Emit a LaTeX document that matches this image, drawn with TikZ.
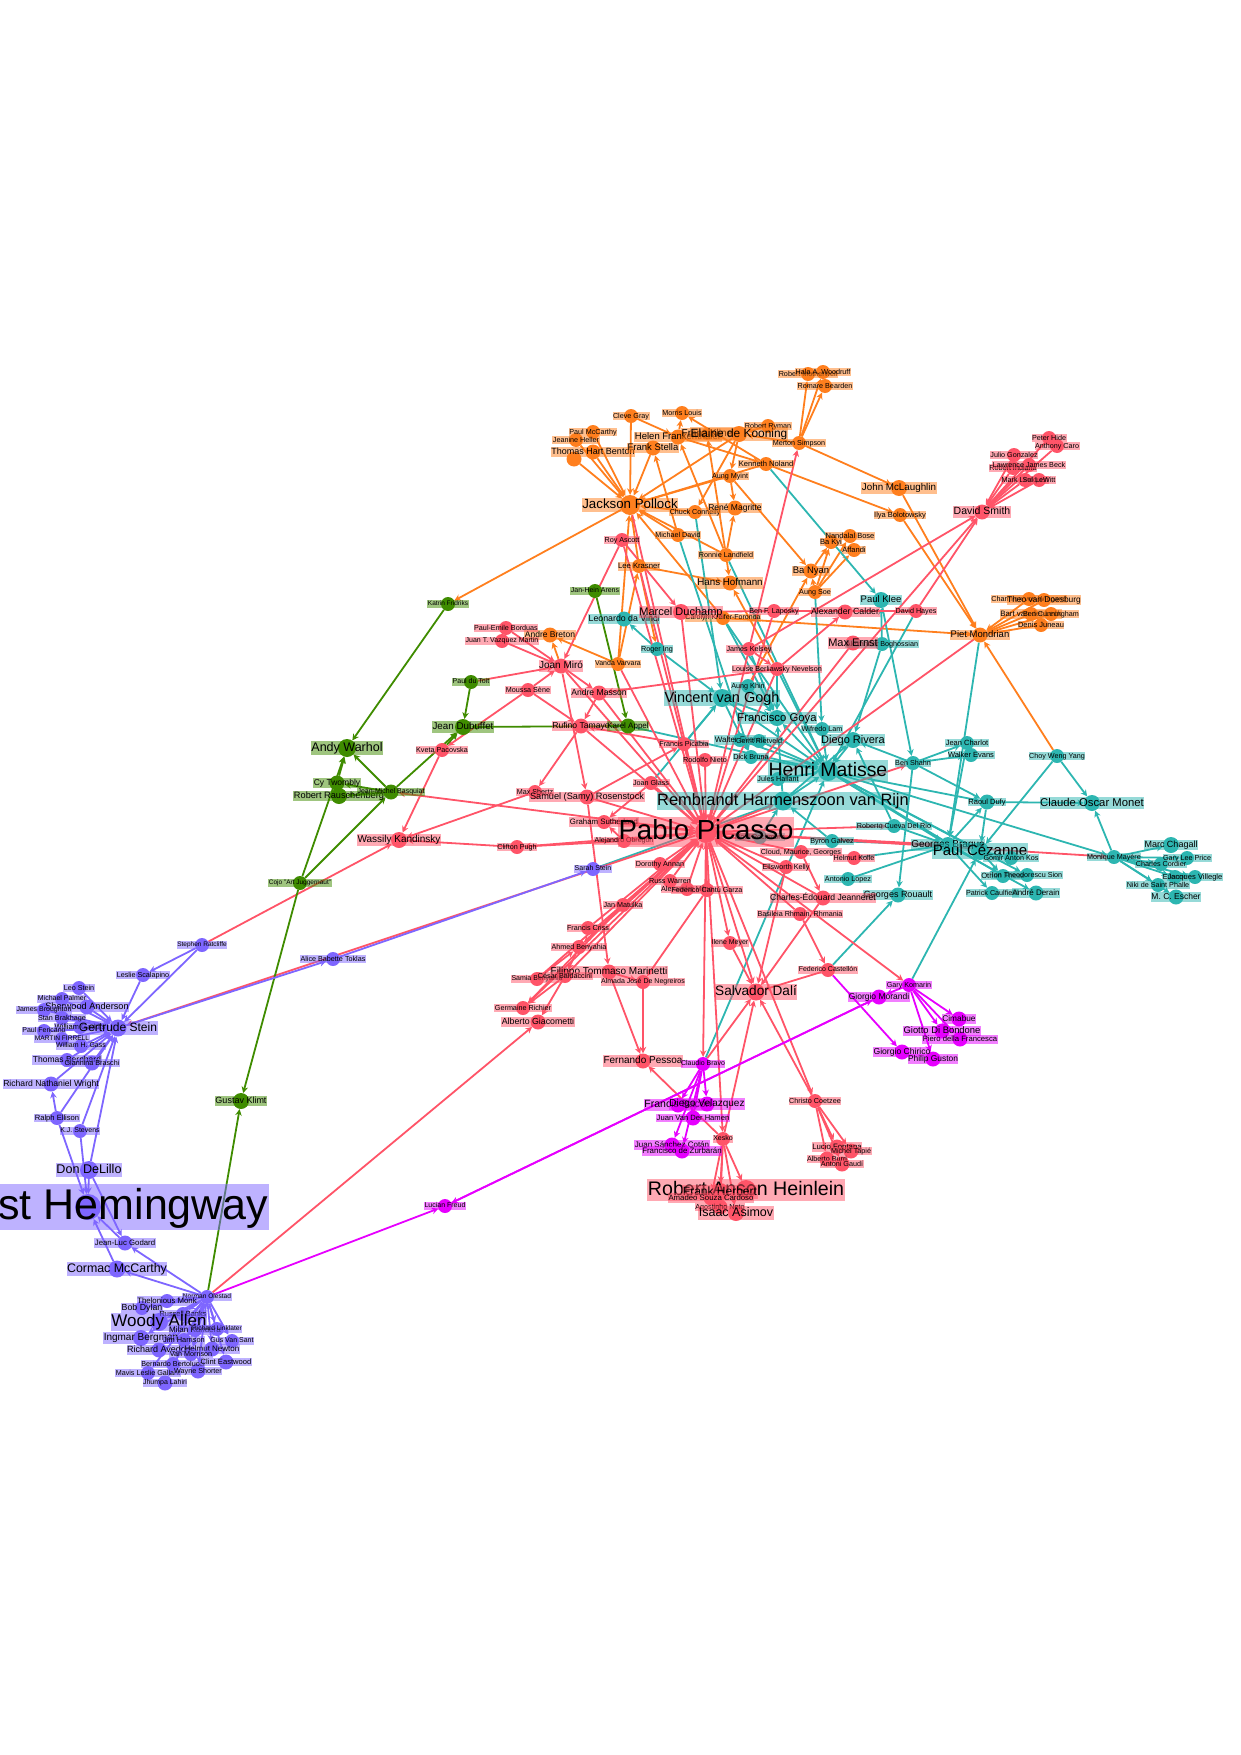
\documentclass[tikz,border=0pt]{standalone}
\usepackage{fontspec}
\setmainfont{Liberation Sans}
\usepackage{xcolor}
\usepackage{tikz}
\usetikzlibrary{arrows.meta}

\definecolor{cOrange}{HTML}{FF7F1E}
\definecolor{cRed}{HTML}{FF5468}
\definecolor{cTeal}{HTML}{2DB6B1}
\definecolor{cGreen}{HTML}{3F8C00}
\definecolor{cPurple}{HTML}{7E66FF}
\definecolor{cMagenta}{HTML}{E600FF}

\pgfdeclarelayer{edges}
\pgfdeclarelayer{labels}
\pgfsetlayers{edges,main,labels}

% id, x, y, radius, font size, text
\newcommand{\person}[6]{%
  \node[dot, minimum size=#4*2pt] (#1) at (#2,#3) {};
  \pgfmathsetmacro{\labH}{#5*.80}
  \pgfmathsetmacro{\labD}{#5*.24}
  \begin{pgfonlayer}{labels}
    \node[lab, font=\fontsize{#5}{#5}\selectfont, text height=\labH pt, text depth=\labD pt] (#1-l) at (#1.center) {#6};
  \end{pgfonlayer}
}

\begin{document}
\begin{tikzpicture}[
  x=1pt, y=-1pt,
  dot/.style={circle, fill=comm, draw=none, inner sep=0pt},
  lab/.style={rectangle, fill=comm, fill opacity=.5, text opacity=1, inner xsep=.5pt, inner ysep=.5pt},
  link/.style={-{Stealth[length=6.5pt,width=6.5pt]}, line width=1.8pt, draw=#1},
]
\useasboundingbox (0,0) rectangle (1240,1755);

% orange group
\colorlet{comm}{cOrange}
\person{motherwell}{808}{374}{7}{7.2}{Robert Motherwell}
\person{woodruff}{823}{372}{7}{7.2}{Hala A. Woodruff}
\person{bearden}{825}{386}{7}{7.2}{Romare Bearden}
\person{gray}{631}{416}{7}{7.2}{Cleve Gray}
\person{louis}{682}{413}{7}{7.2}{Morris Louis}
\person{ryman}{768}{426}{7}{7.2}{Robert Ryman}
\person{mccarthy}{593}{432}{7}{7.2}{Paul McCarthy}
\person{heller}{576}{440}{7}{7.2}{Jeanine Heller}
\person{frankenthaler}{678}{437}{7.5}{9.5}{Helen Frankenthaler}
\person{kline}{707}{434}{6}{10}{Franz Kline}
\person{kooning}{739}{434}{8}{11.9}{Elaine de Kooning}
\person{thomasx}{574}{459}{7.5}{7.2}{}
\person{benton}{593}{452}{7.5}{9}{Thomas Hart Benton}
\person{stella}{653}{448}{7.5}{9.5}{Frank Stella}
\person{simpson}{799}{443}{7}{7.2}{Merton Simpson}
\person{noland}{766}{464}{7}{7.6}{Kenneth Noland}
\person{myint}{730}{476}{7}{7.2}{Aung Myint}
\person{pollock}{630}{505}{10}{13.3}{Jackson Pollock}
\person{connelly}{695}{512}{7}{7.2}{Chuck Connelly}
\person{magritte}{735}{508}{7.5}{8.5}{René Magritte}
\person{mclaughlin}{899}{488}{8}{9.8}{John McLaughlin}
\person{bolotowsky}{900}{515}{7}{7.5}{Ilya Bolotowsky}
\person{bose}{850}{536}{7}{7.5}{Nandalal Bose}
\person{bakyi}{831}{542}{7}{7.5}{Ba Kyi}
\person{affandi}{854}{550}{7}{7.5}{Affandi}
\person{mdavid}{678}{535}{7}{7.2}{Michael David}
\person{landfield}{726}{555}{7}{7.2}{Ronnie Landfield}
\person{krasner}{639}{566}{7}{7.7}{Lee Krasner}
\person{banyan}{811}{571}{7.5}{9.5}{Ba Nyan}
\person{hofmann}{730}{583}{7.5}{9.8}{Hans Hofmann}
\person{aungsoe}{815}{592}{7}{7.2}{Aung Soe}
\person{kreifer}{723}{618}{7}{7}{Carolyn Kreifer-Foronda}
\person{breton}{550}{635}{7.5}{8.5}{Andre Breton}
\person{varvara}{618}{664}{7}{7}{Vanda Varvara}
\person{charmion}{1029}{599}{7}{7.2}{Charmion von Wiegand}
\person{doesburg}{1044}{600}{7}{8.4}{Theo van Doesburg}
\person{leck}{1031}{614}{7}{7.8}{Bart van der Leck}
\person{cunningham}{1051}{614}{7}{7.2}{Ben Cunningham}
\person{juneau}{1041}{625}{7}{7.5}{Denis Juneau}
\person{mondrian}{980}{635}{7.5}{9.5}{Piet Mondrian}

% teal group
\colorlet{comm}{cTeal}
\person{klee}{881}{600}{8}{9.5}{Paul Klee}
\person{leonardo}{624}{619}{7.5}{8.8}{Leonardo da Vinci}
\person{boghossian}{882}{644}{7}{7.2}{Alexander Boghossian}
\person{ing}{657}{649}{7}{7.2}{Roger Ing}
\person{aungkhin}{748}{686}{7}{7.2}{Aung Khin}
\person{gogh}{722}{698}{9}{14.5}{Vincent van Gogh}
\person{goya}{777}{718}{8}{11.3}{Francisco Goya}
\person{lam}{822}{729}{7}{7.2}{Wifredo Lam}
\person{rivera}{853}{740}{8}{11}{Diego Rivera}
\person{everett}{740}{740}{7}{8}{Walter Everett}
\person{rietveld}{759}{741}{7}{7.2}{Gerrit Rietveld}
\person{bruna}{751}{757}{7}{7.2}{Dick Bruna}
\person{matisse}{828}{771}{10}{19.4}{Henri Matisse}
\person{hallant}{778}{779}{7}{7.2}{Jules Hallant}
\person{shahn}{913}{763}{7}{7.2}{Ben Shahn}
\person{charlot}{967}{743}{7}{7.5}{Jean Charlot}
\person{evans}{971}{755}{7}{7.5}{Walker Evans}
\person{choy}{1057}{756}{7}{7.2}{Choy Weng Yang}
\person{dufy}{987}{802}{7.5}{7.5}{Raoul Dufy}
\person{monet}{1092}{803}{8}{11.3}{Claude Oscar Monet}
\person{rembrandt}{783}{801}{9.5}{16.4}{Rembrandt Harmenszoon van Rijn}
\person{rockmore}{760}{837}{7}{7.2}{Noel Rockmore}
\person{cueva}{894}{826}{7}{7.2}{Roberto Cueva Del Rio}
\person{galvez}{832}{841}{7}{7.2}{Byron Galvez}
\person{lopez}{848}{879}{7}{7.2}{Antonio Lopez}
\person{rouault}{898}{895}{7.5}{9}{Georges Rouault}
\person{braque}{948}{845}{8}{10}{Georges Braque}
\person{cezanne}{980}{851}{9}{15}{Paul Cézanne}
\person{kos}{1011}{858}{7}{7.2}{Gomir Anton Kos}
\person{friesz}{1003}{876}{7}{7.6}{Othon Friesz}
\person{sion}{1027}{875}{7}{7.2}{Ion Theodorescu Sion}
\person{caulfield}{992}{893}{7}{7.2}{Patrick Caulfield}
\person{derain}{1036}{893}{7.5}{8}{André Derain}
\person{mayere}{1114}{857}{7}{7.2}{Monique Mayère}
\person{chagall}{1171}{845}{8}{9}{Marc Chagall}
\person{price}{1187}{858}{7}{7.2}{Gary Lee Price}
\person{cordier}{1161}{864}{7}{7.2}{Charles Cordier}
\person{etienne}{1175}{877}{7}{7.2}{Etienne}
\person{villegle}{1195}{877}{7}{7.6}{Jacques Villegle}
\person{phalle}{1158}{885}{7}{7.2}{Niki de Saint Phalle}
\person{escher}{1176}{897}{7.5}{8.5}{M. C. Escher}

% red group
\colorlet{comm}{cRed}
\person{ascott}{622}{540}{7}{7.2}{Roy Ascott}
\person{duchamp}{681}{612}{8}{11}{Marcel Duchamp}
\person{laposky}{774}{611}{7}{7.2}{Ben F. Laposky}
\person{calder}{845}{612}{7.5}{8.8}{Alexander Calder}
\person{hayes}{916}{611}{7}{7.2}{David Hayes}
\person{ernst}{853}{643}{7.5}{11}{Max Ernst}
\person{kelsey}{749}{649}{7}{7.2}{James Kelsey}
\person{hide}{1049}{438}{7}{7.2}{Peter Hide}
\person{caro}{1057}{446}{7}{7.2}{Anthony Caro}
\person{gonzalez}{1014}{455}{7}{7.2}{Julio Gonzalez}
\person{indiana}{1013}{468}{7}{7.2}{Robert Indiana}
\person{beck}{1029}{465}{7}{7.2}{Lawrence James Beck}
\person{lindquist}{1025}{480}{7}{7.2}{Mark Lindquist}
\person{lewitt}{1039}{480}{7}{7.2}{Sol LeWitt}
\person{dsmith}{982}{512}{7.5}{10.5}{David Smith}
\person{borduas}{506}{628}{7}{7.2}{Paul-Emile Borduas}
\person{vazquez}{502}{641}{7}{7}{Juan T. Vazquez Martin}
\person{miro}{561}{666}{7.5}{10}{Joan Miró}
\person{moussa}{528}{690}{7}{7.2}{Moussa Sène}
\person{masson}{599}{693}{7.5}{8.6}{Andre Masson}
\person{nevelson}{777}{669}{7}{7.2}{Louise Berliawsky Nevelson}
\person{tamayo}{581}{726}{7.5}{8.6}{Rufino Tamayo}
\person{pacovska}{442}{750}{7}{7.2}{Kveta Pacovska}
\person{picabia}{684}{744}{7}{7.2}{Francis Picabia}
\person{nieto}{705}{760}{7}{7.2}{Rodolfo Nieto}
\person{glass}{651}{783}{7}{7.2}{Joan Glass}
\person{shertz}{535}{792}{7}{7.2}{Max Shertz}
\person{rosenstock}{587}{797}{7.5}{9.2}{Samuel (Samy) Rosenstock}
\person{sutherland}{604}{822}{7}{7.8}{Graham Sutherland}
\person{obregon}{624}{841}{7}{7}{Alejandro Obregón}
\person{pugh}{517}{847}{7}{7.2}{Clifton Pugh}
\person{kandinsky}{399}{840}{8}{10}{Wassily Kandinsky}
\person{cloud}{801}{852}{7}{7.2}{Cloud, Maurice, Georges}
\person{kelly}{786}{867}{7}{7.2}{Ellsworth Kelly}
\person{kolle}{854}{858}{7}{7.2}{Helmut Kolle}
\person{jeanneret}{823}{898}{7.5}{8.6}{Charles-Édouard Jeanneret}
\person{rhmain}{800}{914}{7}{7.2}{Basileia Rhmain, Rhmania}
\person{annan}{660}{864}{7}{7.2}{Dorothy Annan}
\person{warren}{670}{881}{7}{7.2}{Russ Warren}
\person{alexander}{687}{889}{7}{7.2}{Alexander Milne}
\person{cantu}{707}{890}{7}{7.2}{Federico Cantú Garza}
\person{matulka}{623}{905}{7}{7.2}{Jan Matulka}
\person{criss}{588}{928}{7}{7.2}{Francis Criss}
\person{benyahia}{579}{947}{7}{7.2}{Ahmed Benyahia}
\person{meyer}{730}{943}{7}{7}{Ilene Meyer}
\person{marinetti}{609}{972}{7.5}{10}{Filippo Tommaso Marinetti}
\person{almada}{643}{982}{7}{7}{Almada José De Negreiros}
\person{samia}{537}{979}{7}{7}{Samia Benyahia}
\person{cesar}{565}{976}{7}{7.2}{César Baldaccini}
\person{richier}{523}{1008}{7}{7.2}{Germaine Richier}
\person{giacometti}{538}{1022}{7.5}{8.8}{Alberto Giacometti}
\person{dali}{756}{992}{8.5}{13.6}{Salvador Dalí}
\person{castellon}{828}{970}{7}{7}{Federico Castellón}
\person{pessoa}{643}{1061}{7.5}{10}{Fernando Pessoa}
\person{coetzee}{815}{1101}{7}{7.2}{Christo Coetzee}
\person{xesko}{723}{1139}{7}{7}{Xesko}
\person{fontana}{837}{1147}{7.5}{7.8}{Lucio Fontana}
\person{tapie}{851}{1151}{7.5}{7.2}{Michel Tapié}
\person{burri}{827}{1159}{7.5}{7.2}{Alberto Burri}
\person{gaudi}{842}{1164}{7.5}{7.2}{Antoni Gaudí}
\person{heinlein}{746}{1190}{10}{19.6}{Robert Anson Heinlein}
\person{herbert}{720}{1192}{9}{12}{Frank Herbert}
\person{cardoso}{711}{1198}{7.5}{7.8}{Amadeo Souza Cardoso}
\person{neto}{720}{1207}{7.5}{7.2}{Agostinho Neto}
\person{asimov}{736}{1213}{8}{12.5}{Isaac Asimov}
\person{picasso}{706}{832}{11}{27.6}{Pablo Picasso}

% green group
\colorlet{comm}{cGreen}
\person{arens}{595}{591}{7}{7}{Jan-Hein Arens}
\person{fridriks}{448}{604}{7}{6.5}{Katrin Fridriks}
\person{dutoit}{471}{682}{7}{7}{Paul du Toit}
\person{dubuffet}{463}{727}{8}{9.8}{Jean Dubuffet}
\person{appel}{628}{726}{7.5}{8}{Karel Appel}
\person{warhol}{347}{748}{9}{12.5}{Andy Warhol}
\person{twombly}{337}{783}{7.5}{8.5}{Cy Twombly}
\person{rauschenberg}{339}{796}{8}{9.2}{Robert Rauschenberg}
\person{basquiat}{391}{792}{7.5}{7}{Jean-Michel Basquiat}
\person{cojo}{300}{883}{7}{6.5}{Cojo "Art Juggernaut"}
\person{klimt}{241}{1101}{8}{9}{Gustav Klimt}

% purple group
\colorlet{comm}{cPurple}
\person{sstein}{593}{869}{7}{7}{Sarah Stein}
\person{toklas}{333}{959}{7}{7.2}{Alice Babette Toklas}
\person{ratcliffe}{202}{945}{7}{6.5}{Stephen Ratcliffe}
\person{scalapino}{143}{975}{7}{7.2}{Leslie Scalapino}
\person{leostein}{79}{988}{7}{7.2}{Leo Stein}
\person{palmer}{62}{999}{7}{7}{Michael Palmer}
\person{anderson}{87}{1007}{7.5}{9.2}{Sherwood Anderson}
\person{broughton}{44}{1010}{7}{7}{James Broughton}
\person{brakhage}{62}{1018}{7}{7.2}{Stan Brakhage}
\person{gaddis}{80}{1027}{7}{7.6}{William Gaddis}
\person{fericano}{44}{1031}{7}{7}{Paul Fericano}
\person{firrell}{62}{1039}{7}{6.6}{MARTIN FIRRELL}
\person{gass}{81}{1046}{7}{7}{William H. Gass}
\person{bernhard}{67}{1060}{7}{8.5}{Thomas Bernhard}
\person{braschi}{92}{1063}{7.5}{7.2}{Giannina Braschi}
\person{wright}{51}{1084}{7.5}{8.6}{Richard Nathaniel Wright}
\person{ellison}{57}{1118}{7}{7.6}{Ralph Ellison}
\person{stevens}{80}{1131}{7}{7}{K.J. Stevens}
\person{gstein}{118}{1028}{8.5}{12}{Gertrude Stein}
\person{delillo}{89}{1170}{9}{12.6}{Don DeLillo}
\person{hemingway}{88}{1207}{13}{43}{Ernest Hemingway}
\person{godard}{125}{1243}{7.5}{7.8}{Jean-Luc Godard}
\person{mccarthyc}{117}{1269}{8.5}{12.4}{Cormac McCarthy}
\person{olestad}{207}{1297}{7}{6.6}{Norman Olestad}
\person{monk}{167}{1301}{7}{7.8}{Thelonious Monk}
\person{dylan}{142}{1308}{7}{8.8}{Bob Dylan}
\person{banks}{183}{1314}{7}{7.4}{Russell Banks}
\person{allen}{159}{1322}{9}{17}{Woody Allen}
\person{kundera}{195}{1330}{7}{8}{Milan Kundera}
\person{linklater}{217}{1329}{7}{6.6}{Richard Linklater}
\person{vansant}{232}{1341}{7}{7}{Gus Van Sant}
\person{bergman}{141}{1338}{8}{10}{Ingmar Bergman}
\person{harrison}{184}{1340}{7}{7.4}{Jim Harrison}
\person{avedon}{159}{1350}{7.5}{9}{Richard Avedon}
\person{newton}{212}{1349}{7.5}{8}{Helmut Newton}
\person{morrison}{191}{1354}{7}{7.2}{Van Morrison}
\person{bertolucci}{173}{1364}{7}{7.2}{Bernardo Bertolucci}
\person{eastwood}{226}{1362}{7.5}{7.6}{Clint Eastwood}
\person{gallant}{148}{1373}{7}{7.2}{Mavis Leslie Gallant}
\person{shorter}{198}{1371}{7.5}{7.2}{Wayne Shorter}
\person{lahiri}{165}{1383}{7.5}{7}{Jhumpa Lahiri}

% magenta group
\colorlet{comm}{cMagenta}
\person{freud}{445}{1206}{7}{7}{Lucian Freud}
\person{bravo}{703}{1064}{7}{7}{Claudio Bravo}
\person{bacon}{678}{1105}{7.5}{10.5}{Francis Bacon}
\person{velazquez}{707}{1104}{7.5}{10}{Diego Velazquez}
\person{hamen}{693}{1118}{7.5}{7.6}{Juan Van Der Hamen}
\person{cotan}{672}{1145}{7.5}{8}{Juan Sánchez Cotán}
\person{zurbaran}{682}{1151}{7.5}{7.9}{Francisco de Zurbarán}
\person{garyn}{909}{985}{7}{7.2}{Gary Komarin}
\person{morandi}{879}{997}{7.5}{8.5}{Giorgio Morandi}
\person{cimabue}{959}{1019}{7.5}{8.3}{Cimabue}
\person{giotto}{942}{1031}{7.5}{9.4}{Giotto Di Bondone}
\person{piero}{960}{1039}{7.5}{7.7}{Piero della Francesca}
\person{chirico}{902}{1052}{7.5}{8.6}{Giorgio Chirico}
\person{guston}{933}{1059}{7.5}{8.4}{Philip Guston}

\begin{pgfonlayer}{edges}
\foreach \src/\dst in {benton/pollock, thomasx/pollock, mccarthy/pollock, heller/pollock, gray/pollock, stella/pollock,
  kooning/pollock, myint/pollock, noland/pollock, connelly/pollock, mdavid/pollock, landfield/pollock, krasner/pollock,
  varvara/pollock, kreifer/pollock, pollock/fridriks, gray/frankenthaler, frankenthaler/louis, noland/louis, simpson/kooning,
  ryman/kooning, simpson/motherwell, simpson/woodruff, simpson/bearden, simpson/mclaughlin, noland/bolotowsky, frankenthaler/noland,
  kooning/connelly, kooning/myint, myint/banyan, landfield/magritte, myint/magritte, landfield/hofmann, landfield/frankenthaler,
  landfield/kline, mdavid/stella, krasner/hofmann, aungsoe/banyan, aungsoe/bakyi, aungsoe/bose, aungsoe/affandi, banyan/bakyi,
  aungkhin/banyan, nevelson/hofmann, varvara/breton, miro/breton, varvara/krasner, krasner/ing, mclaughlin/mondrian,
  bolotowsky/mondrian, choy/mondrian, charmion/mondrian, doesburg/mondrian, leck/mondrian, cunningham/mondrian, juneau/mondrian,
  kreifer/mondrian}
  \draw[link=cOrange] (\src) -- (\dst);
\foreach \src/\dst in {noland/klee, connelly/gogh, mdavid/bruna, landfield/matisse, kreifer/goya, kreifer/matisse, ing/leonardo, ing/gogh,
  aungsoe/lam, boghossian/klee, klee/shahn, shahn/rouault, boghossian/rivera, hayes/matisse, mondrian/braque, charlot/braque,
  shahn/charlot, shahn/evans, shahn/dufy, shahn/rivera, dufy/monet, dufy/cezanne, braque/dufy, choy/monet, choy/cezanne,
  mayere/monet, mayere/chagall, mayere/price, mayere/cordier, mayere/etienne, mayere/villegle, mayere/phalle, mayere/escher,
  matisse/mayere, matisse/dufy, matisse/cezanne, matisse/braque, matisse/friesz, matisse/sion, braque/caulfield, braque/derain,
  cezanne/kos, cezanne/friesz, castellon/rouault, garyn/cezanne, bravo/matisse, lopez/braque, kolle/braque, galvez/rembrandt,
  galvez/braque, cueva/rivera, cueva/braque, rockmore/rembrandt, sstein/rembrandt, picabia/gogh, glass/gogh, appel/matisse,
  gogh/goya, gogh/bruna, gogh/matisse, lam/matisse, bruna/matisse, rietveld/matisse, everett/matisse, rivera/matisse,
  hallant/matisse, nevelson/matisse, nevelson/goya, kelsey/goya, aungkhin/goya, rembrandt/goya, rembrandt/matisse, rembrandt/rivera,
  matisse/goya}
  \draw[link=cTeal] (\src) -- (\dst);
\foreach \src in {annan, warren, alexander, cantu, obregon, sutherland, rockmore, cloud, kelly, matulka, criss, benyahia, samia, cesar,
  richier, rhmain, nieto, picabia, tamayo, miro, duchamp, ascott, nevelson, kelsey, laposky, masson, varvara, glass, rosenstock,
  pollock, ernst, krasner, jeanneret, mondrian}
  \draw[link=cRed] (\src) -- (picasso);
\foreach \src/\dst in {picasso/rembrandt, picasso/cueva, picasso/braque, picasso/mayere, picasso/shahn, picasso/dsmith,
  picasso/dali, picasso/coetzee, picasso/xesko, picasso/garyn, picasso/gstein, picasso/basquiat, picasso/pugh, picasso/bravo,
  picasso/meyer, kelsey/dsmith, kelsey/simpson, kelsey/nevelson, hayes/dsmith, hayes/laposky, laposky/duchamp, nevelson/calder, nevelson/masson,
  ascott/miro, ascott/duchamp, cloud/jeanneret, jeanneret/dali, kelly/dali, meyer/dali, castellon/dali, bravo/dali, xesko/dali,
  coetzee/dali, rhmain/castellon, coetzee/fontana, coetzee/tapie, coetzee/burri, coetzee/gaudi, xesko/pessoa, xesko/heinlein,
  xesko/cardoso, xesko/neto, xesko/herbert, xesko/asimov, marinetti/pessoa, almada/pessoa, cantu/almada, marinetti/almada,
  rosenstock/marinetti, miro/rosenstock, matulka/benyahia, samia/benyahia, cesar/richier, cesar/giacometti, benyahia/cesar, matulka/richier,
  moussa/miro, miro/masson, moussa/tamayo, masson/tamayo, picabia/tamayo, tamayo/shertz, moussa/pacovska, dutoit/miro, borduas/miro,
  vazquez/miro, rosenstock/picabia, glass/sutherland, obregon/sutherland, obregon/pugh, pugh/kandinsky, shertz/kandinsky,
  pacovska/kandinsky, ratcliffe/kandinsky, olestad/giacometti, hide/dsmith, caro/dsmith, gonzalez/dsmith, beck/dsmith, indiana/dsmith,
  lindquist/dsmith, lewitt/dsmith}
  \draw[link=cRed] (\src) -- (\dst);
\foreach \src/\dst in {fridriks/warhol, twombly/warhol, basquiat/warhol, cojo/warhol, cojo/basquiat, basquiat/twombly, basquiat/rauschenberg,
  basquiat/dubuffet, dutoit/dubuffet, pacovska/dubuffet, appel/dubuffet, arens/appel, cojo/klimt, olestad/klimt}
  \draw[link=cGreen] (\src) -- (\dst);
\foreach \src/\dst in {scalapino/gstein, ratcliffe/scalapino, ratcliffe/gstein, leostein/gstein, palmer/gstein, anderson/gstein, broughton/gstein,
  brakhage/gstein, gaddis/gstein, fericano/gstein, firrell/gstein, gass/gstein, bernhard/gstein, braschi/gstein, wright/gstein, ellison/gstein,
  ellison/wright, stevens/gstein, delillo/gstein, ellison/hemingway, stevens/hemingway, delillo/hemingway, delillo/godard, godard/hemingway,
  mccarthyc/hemingway, olestad/godard, olestad/mccarthyc, olestad/monk, olestad/dylan, olestad/banks, olestad/allen, olestad/kundera,
  olestad/linklater, olestad/vansant, olestad/bergman, olestad/harrison, olestad/avedon, olestad/newton, olestad/morrison, olestad/bertolucci,
  olestad/eastwood, olestad/gallant, olestad/shorter, olestad/lahiri, gstein/toklas, toklas/sstein}
  \draw[link=cPurple] (\src) -- (\dst);
\foreach \src/\dst in {olestad/freud, freud/morandi, morandi/freud, castellon/chirico, garyn/cimabue, garyn/giotto, garyn/piero, garyn/guston, garyn/morandi,
  bravo/bacon, bravo/velazquez, bravo/hamen, bravo/cotan, bravo/zurbaran}
  \draw[link=cMagenta] (\src) -- (\dst);
\end{pgfonlayer}

\end{tikzpicture}
\end{document}
